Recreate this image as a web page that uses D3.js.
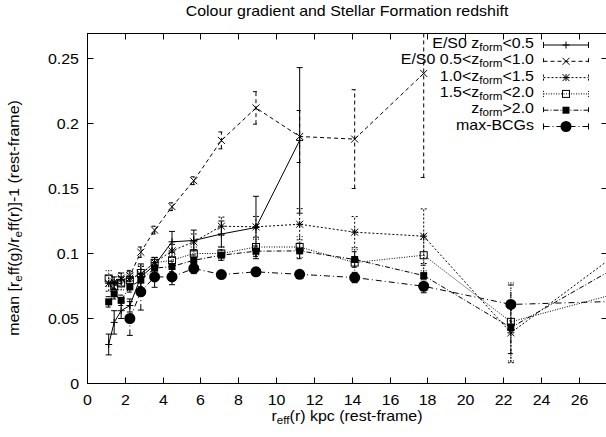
<!DOCTYPE html>
<html>
<head>
<meta charset="utf-8">
<script src="https://cdn.jsdelivr.net/npm/d3@7"></script>
<style>
  body { margin: 0; background: #fff; }
  svg { display: block; }
  text { font-family: "Liberation Sans", Arial, Helvetica, sans-serif; fill: #000; }
</style>
</head>
<body>
<svg id="chart" width="606" height="437"></svg>
<script>
// Bin centres of the effective radius, kpc (rest-frame)
const radius = [1.12, 1.41, 1.78, 2.24, 2.82, 3.55, 4.47, 5.62, 7.08, 8.91, 11.22, 14.13, 17.78, 22.39, 28.18];

// Mean colour gradient per formation-redshift class (null = no galaxies in bin)
const zLt05    = [0.030, 0.047, 0.056, 0.060, 0.082, 0.091, 0.109, 0.110, 0.115, 0.120, 0.187, null, null, null, null];
const zLt05Err = [0.008, 0.009, 0.006, 0.005, 0.010, 0.006, 0.008, 0.008, 0.010, 0.024, 0.056, null, null, null, null];

const z05to10    = [null, 0.078, 0.081, 0.083, 0.101, 0.118, 0.136, 0.156, 0.187, 0.212, 0.190, 0.188, 0.2385, null, null];
const z05to10Err = [null, 0.004, 0.004, 0.004, 0.004, 0.003, 0.003, 0.003, 0.0065, 0.0125, 0.020, 0.038, 0.080, null, null];

const z10to15    = [0.077, 0.077, 0.080, 0.081, 0.084, 0.093, 0.102, 0.109, 0.121, 0.1205, 0.1225, 0.1164, 0.1133, 0.039, 0.1017];
const z10to15Err = [0.006, 0.005, 0.005, 0.005, 0.006, 0.004, 0.005, 0.006, 0.007, 0.008, 0.012, 0.012, 0.021, 0.023, 0.020];

const z15to20    = [0.0808, 0.075, 0.077, 0.0795, 0.085, 0.0928, 0.0948, 0.100, 0.100, 0.105, 0.105, 0.093, 0.0987, 0.0474, 0.070];
const z15to20Err = [0.006, 0.005, 0.005, 0.005, 0.006, 0.004, 0.004, 0.005, 0.005, 0.006, 0.008, 0.010, 0.012, 0.030, 0.020];

const zGt20    = [0.0628, 0.069, 0.064, 0.0743, 0.0795, 0.0887, 0.090, 0.0948, 0.0987, 0.1018, 0.102, 0.0954, 0.083, 0.043, 0.0912];
const zGt20Err = [0.004, 0.004, 0.004, 0.004, 0.005, 0.004, 0.004, 0.004, 0.004, 0.004, 0.006, 0.006, 0.008, 0.020, 0.020];

const maxBCG    = [null, null, null, 0.050, 0.0705, 0.082, 0.082, 0.0885, 0.0838, 0.0859, 0.084, 0.0815, 0.0748, 0.0608, 0.0633];
const maxBCGErr = [null, null, null, 0.013, 0.014, 0.008, 0.006, 0.004, 0.003, 0.003, 0.003, 0.004, 0.005, 0.015, 0.010];

// Legend labels: [text, isSubscript] pieces
const legendLabels = [
  [["E/S0 z", false], ["form", true], ["<0.5", false]],
  [["E/S0 0.5<z", false], ["form", true], ["<1.0", false]],
  [["1.0<z", false], ["form", true], ["<1.5", false]],
  [["1.5<z", false], ["form", true], ["<2.0", false]],
  [["z", false], ["form", true], [">2.0", false]],
  [["max-BCGs", false]]
];

const xTicks = [0, 2, 4, 6, 8, 10, 12, 14, 16, 18, 20, 22, 24, 26];
const yTicks = [0, 0.05, 0.1, 0.15, 0.2, 0.25];

const series = [
  { values: zLt05,   errors: zLt05Err,   dash: null,        marker: "plus"   },
  { values: z05to10, errors: z05to10Err, dash: "4,3",       marker: "cross"  },
  { values: z10to15, errors: z10to15Err, dash: "2,2",       marker: "star"   },
  { values: z15to20, errors: z15to20Err, dash: "1,1.5",     marker: "box"    },
  { values: zGt20,   errors: zGt20Err,   dash: "5,2,1,2",   marker: "fbox"   },
  { values: maxBCG,  errors: maxBCGErr,  dash: "6,3,1,3",   marker: "circle" }
];

const svg = d3.select("#chart");
const plotLeft = 87.5, plotRight = 607.5, plotTop = 33.5, plotBottom = 383.5;
const FONT = 14, SUB = 10.2, SUB_SHIFT = 3, WIDEN = 1.14;

const x = d3.scaleLinear().domain([0, 27.5]).range([plotLeft, plotRight]);
const y = d3.scaleLinear().domain([0, 0.26923]).range([plotBottom, plotTop]);

// Text with the wide Helvetica-like face of the plot
function addText(parent, px, py, anchor, extra) {
  return parent.append("text")
    .attr("transform", `translate(${px},${py}) ${extra || ""} scale(${WIDEN},1)`)
    .attr("text-anchor", anchor)
    .attr("font-size", FONT);
}

// Rich text helper for gnuplot-style subscripts
function richText(sel, pieces) {
  let shifted = false;
  pieces.forEach(([str, sub]) => {
    const ts = sel.append("tspan").text(str);
    if (sub && !shifted) { ts.attr("dy", SUB_SHIFT).attr("font-size", SUB); shifted = true; }
    else if (!sub && shifted) { ts.attr("dy", -SUB_SHIFT).attr("font-size", FONT); shifted = false; }
    else if (sub) { ts.attr("font-size", SUB); }
  });
  return sel;
}

// Title
addText(svg, 347, 15.5, "middle").text("Colour gradient and Stellar Formation redshift");

// Axes with inward ticks on all four sides
const tickLen = 6;
const axisG = svg.append("g").attr("stroke", "#000").attr("stroke-width", 1).attr("fill", "none");
axisG.append("rect")
  .attr("x", plotLeft).attr("y", plotTop)
  .attr("width", plotRight - plotLeft).attr("height", plotBottom - plotTop);

xTicks.forEach(t => {
  const px = Math.round(x(t) - 0.5) + 0.5;
  axisG.append("line").attr("x1", px).attr("x2", px).attr("y1", plotBottom).attr("y2", plotBottom - tickLen);
  axisG.append("line").attr("x1", px).attr("x2", px).attr("y1", plotTop).attr("y2", plotTop + tickLen);
  addText(svg, px, 404.5, "middle").text(String(t));
});

yTicks.forEach(t => {
  const py = Math.round(y(t) - 0.5) + 0.5;
  axisG.append("line").attr("x1", plotLeft).attr("x2", plotLeft + tickLen).attr("y1", py).attr("y2", py);
  axisG.append("line").attr("x1", plotRight).attr("x2", plotRight - tickLen).attr("y1", py).attr("y2", py);
  addText(svg, 79, py + 5, "end").text(String(t));
});

// Axis titles
richText(addText(svg, 347, 421, "middle"),
  [["r", false], ["eff", true], ["(r) kpc (rest-frame)", false]]);

richText(addText(svg, 18.5, 218, "middle", "rotate(-90)"),
  [["mean [r", false], ["e", true], ["ff(g)/r", false], ["e", true], ["ff(r)]-1 (rest-frame)", false]]);

// Clip for the plotting area
svg.append("defs").append("clipPath").attr("id", "plotClip")
  .append("rect").attr("x", plotLeft).attr("y", plotTop)
  .attr("width", plotRight - plotLeft).attr("height", plotBottom - plotTop);

const plot = svg.append("g").attr("clip-path", "url(#plotClip)");

function drawMarker(g, type, cx, cy) {
  const s = 3.5;
  if (type === "plus") {
    g.append("path").attr("d", `M${cx - s},${cy}H${cx + s}M${cx},${cy - s}V${cy + s}`)
      .attr("stroke", "#000").attr("fill", "none");
  } else if (type === "cross") {
    g.append("path").attr("d", `M${cx - s},${cy - s}L${cx + s},${cy + s}M${cx - s},${cy + s}L${cx + s},${cy - s}`)
      .attr("stroke", "#000").attr("fill", "none");
  } else if (type === "star") {
    g.append("path").attr("d", `M${cx - s},${cy}H${cx + s}M${cx},${cy - s}V${cy + s}M${cx - s},${cy - s}L${cx + s},${cy + s}M${cx - s},${cy + s}L${cx + s},${cy - s}`)
      .attr("stroke", "#000").attr("fill", "none");
  } else if (type === "box") {
    g.append("rect").attr("x", cx - s).attr("y", cy - s).attr("width", 2 * s).attr("height", 2 * s)
      .attr("stroke", "#000").attr("fill", "none");
  } else if (type === "fbox") {
    g.append("rect").attr("x", cx - s).attr("y", cy - s).attr("width", 2 * s).attr("height", 2 * s)
      .attr("fill", "#000");
  } else if (type === "circle") {
    g.append("circle").attr("cx", cx).attr("cy", cy).attr("r", 5.5).attr("fill", "#000");
  }
}

series.forEach(s => {
  const g = plot.append("g");
  const pts = radius.map((r, i) => ({ r, v: s.values[i], e: s.errors[i] })).filter(d => d.v !== null);
  const line = d3.line().x(d => x(d.r)).y(d => y(d.v));
  // error bars
  pts.forEach(d => {
    if (d.e === null) return;
    const px = x(d.r), y1 = y(d.v - d.e), y2 = y(d.v + d.e);
    g.append("path")
      .attr("d", `M${px},${y1}V${y2}M${px - 3},${y1}H${px + 3}M${px - 3},${y2}H${px + 3}`)
      .attr("stroke", "#000").attr("stroke-width", 1).attr("fill", "none")
      .attr("stroke-dasharray", s.dash);
  });
  g.append("path").datum(pts)
    .attr("d", line)
    .attr("fill", "none").attr("stroke", "#000").attr("stroke-width", 1)
    .attr("stroke-dasharray", s.dash);
  pts.forEach(d => drawMarker(g, s.marker, x(d.r), y(d.v)));
});

// Legend
const legend = svg.append("g");
series.forEach((s, i) => {
  const ly = 45 + i * 16.3;
  richText(addText(legend, 534, ly + 3, "end"), legendLabels[i]);
  const x1 = 543.5, x2 = 588.5;
  legend.append("path")
    .attr("d", `M${x1},${ly}H${x2}M${x1},${ly - 3}V${ly + 3}M${x2},${ly - 3}V${ly + 3}`)
    .attr("stroke", "#000").attr("fill", "none").attr("stroke-width", 1)
    .attr("stroke-dasharray", s.dash);
  drawMarker(legend, s.marker, (x1 + x2) / 2, ly);
});
</script>
</body>
</html>
